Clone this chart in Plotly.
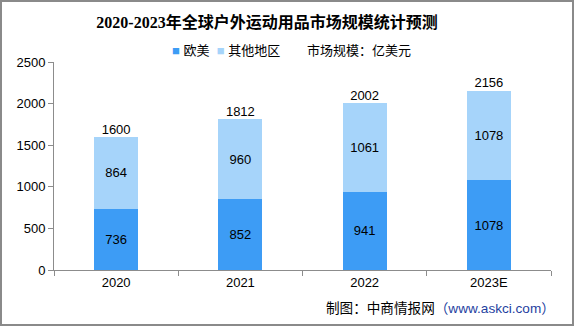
import plotly.graph_objects as go

# Market size data (unit: 100 million USD)
years = ["2020", "2021", "2022", "2023E"]
europe_us = [736, 852, 941, 1078]
other_regions = [864, 960, 1061, 1078]
totals = [1600, 1812, 2002, 2156]
y_ticks = [0, 500, 1000, 1500, 2000, 2500]

DARK_BLUE = "#3d9cf5"
LIGHT_BLUE = "#a6d4fa"
AXIS_GREY = "#8c8c8c"
LATIN_CJK = "Liberation Sans, Noto Sans CJK SC, sans-serif"
SERIF_CJK = "Liberation Serif, Noto Sans CJK SC, serif"

L, R, T, B = 54, 25, 62, 57
W, H = 576, 327
PW, PH = W - L - R, H - T - B


def px_x(px):
    return (px - L) / PW


def px_y(py):
    return (H - B - py) / PH


fig = go.Figure()

fig.add_trace(go.Bar(
    name="欧美", x=years, y=europe_us, marker=dict(color=DARK_BLUE, line=dict(width=0)),
    text=europe_us, texttemplate="%{text}", textposition="inside",
    insidetextanchor="middle", constraintext="none",
    textfont=dict(color="#000000", size=13, family=LATIN_CJK),
))
fig.add_trace(go.Bar(
    name="其他地区", x=years, y=other_regions, marker=dict(color=LIGHT_BLUE, line=dict(width=0)),
    text=other_regions, texttemplate="%{text}", textposition="inside",
    insidetextanchor="middle", constraintext="none",
    textfont=dict(color="#000000", size=13, family=LATIN_CJK),
))
fig.add_trace(go.Scatter(
    x=years, y=totals, mode="text", text=[str(v) for v in totals],
    textposition="top center", showlegend=False, cliponaxis=False,
    textfont=dict(color="#000000", size=13, family=LATIN_CJK), hoverinfo="skip",
))

fig.update_layout(
    width=W, height=H,
    margin=dict(l=L, r=R, t=T, b=B),
    paper_bgcolor="white", plot_bgcolor="white",
    barmode="stack", bargap=0.646,
    font=dict(family=LATIN_CJK, size=13, color="#000000"),
    title=dict(
        text="<b>2020-2023年全球户外运动用品市场规模统计预测</b>",
        x=267 / W, xref="container", xanchor="center",
        y=1 - 22 / H, yref="container", yanchor="middle",
        font=dict(family=SERIF_CJK, size=16, color="#000000"),
    ),
    xaxis=dict(
        type="category", range=[-0.5, 3.5], showline=True, linecolor=AXIS_GREY, linewidth=1,
        ticks="outside", tickson="boundaries", ticklen=5, tickcolor=AXIS_GREY,
        showgrid=False, zeroline=False, tickfont=dict(size=13),
    ),
    yaxis=dict(
        range=[0, 2500], tickvals=y_ticks, showline=True, linecolor=AXIS_GREY, linewidth=1,
        ticks="outside", ticklen=5, tickcolor=AXIS_GREY, showgrid=False, zeroline=False,
        tickfont=dict(size=13),
    ),
    showlegend=False,
)

# Compact legend line: coloured squares followed by series names
fig.add_annotation(
    text=(f"<span style='color:{DARK_BLUE}'>■</span> 欧美  "
          f"<span style='color:{LIGHT_BLUE}'>■</span> 其他地区"),
    x=px_x(170), y=px_y(50), xref="paper", yref="paper",
    xanchor="left", yanchor="middle", showarrow=False, font=dict(size=13),
)
fig.add_annotation(
    text="市场规模：亿美元", x=px_x(305), y=px_y(50), xref="paper", yref="paper",
    xanchor="left", yanchor="middle", showarrow=False, font=dict(size=13),
)
fig.add_annotation(
    text="制图：中商情报网<span style='color:#1f3f9f'>（www.askci.com）</span>",
    x=px_x(557), y=px_y(308), xref="paper", yref="paper",
    xanchor="right", yanchor="middle", showarrow=False, font=dict(size=13.6),
)

# Outer grey frame
fig.add_shape(
    type="rect", xref="paper", yref="paper",
    x0=px_x(1), x1=px_x(573), y0=px_y(325), y1=px_y(1),
    line=dict(color="#8a8a8a", width=2), fillcolor="rgba(0,0,0,0)", layer="below",
)

fig.write_html("out.html")
